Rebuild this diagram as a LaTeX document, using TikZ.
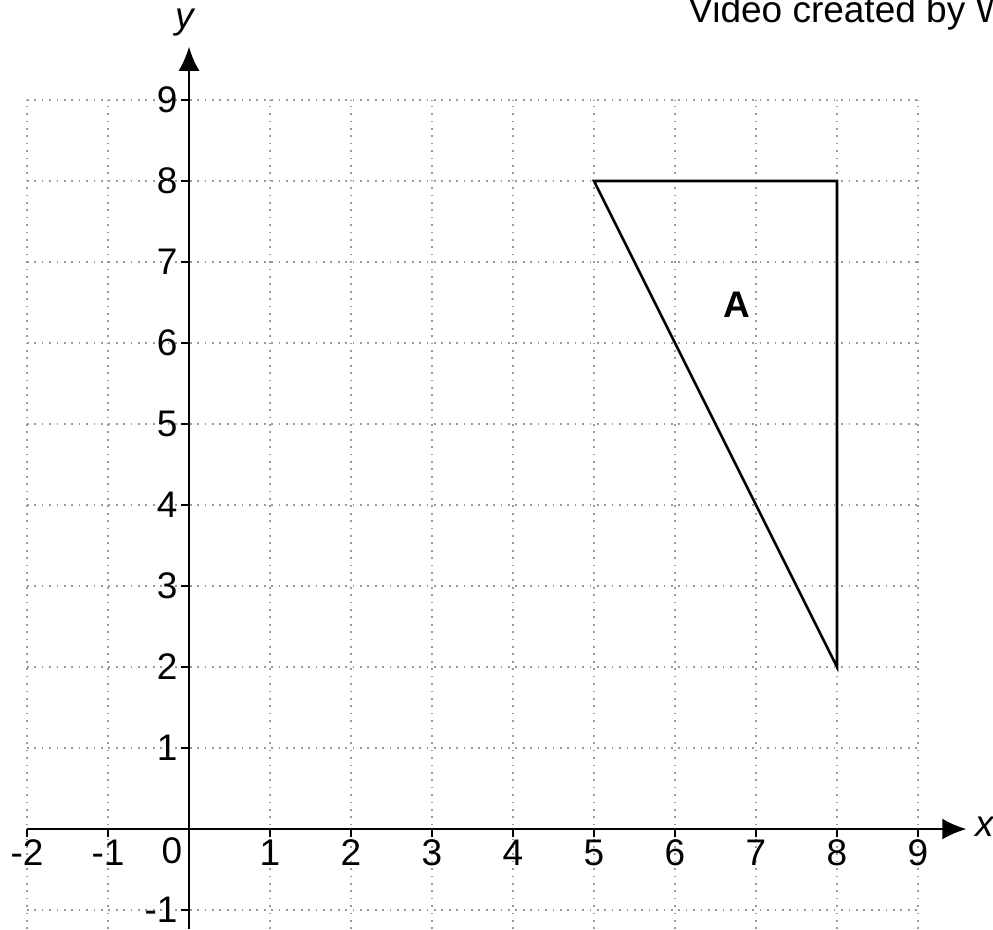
\documentclass[tikz,border=0pt]{standalone}
\usepackage{fontspec}
\setmainfont{Liberation Sans}
\usetikzlibrary{arrows.meta}
\tikzset{
  gridline/.style={gray!80, dotted, line width=0.6pt},
  axisline/.style={line width=0.9pt, -{Latex[length=3mm,width=2.6mm]}},
  ticklabel/.style={font=\fontsize{13}{15}\selectfont, inner sep=1pt},
  shapeline/.style={line width=0.9pt, line join=miter},
}
\begin{document}
\begin{tikzpicture}[x=1cm,y=1cm]
    \useasboundingbox (-2.333,-1.235) rectangle (9.926,10.235);
    % grid
    \foreach \i in {-2,...,9} \draw[gridline] (\i,-1.235) -- (\i,9);
    \foreach \j in {-1,...,9} \draw[gridline] (-2,\j) -- (9,\j);
    % axes
    \coordinate (xstart) at (-2,0);
    \coordinate (xend) at (9.6,0);
    \coordinate (ystart) at (0,-1.235);
    \coordinate (yend) at (0,9.66);
    \draw[axisline] (xstart) -- (xend);
    \draw[axisline] (ystart) -- (yend);
    \node[font=\fontsize{13}{15}\selectfont\itshape] (xlab) at (9.83,0.03) {x};
    \node[font=\fontsize{13}{15}\selectfont\itshape] (ylab) at (-0.05,9.96) {y};
    % ticks
    \foreach \i in {-2,-1,1,2,3,4,5,6,7,8,9} {
        \draw[line width=0.9pt] (\i,0) -- (\i,-0.1);
        \node[ticklabel] (xt\i) at (\i,-0.29) {\i};
    }
    \foreach \j in {-1,1,2,3,4,5,6,7,8,9} {
        \draw[line width=0.9pt] (-0.1,\j) -- (0,\j);
        \node[ticklabel, anchor=east] (yt\j) at (-0.1,\j) {\j};
    }
    \node[ticklabel] (zero) at (-0.21,-0.27) {0};
    % shape A
    \coordinate (p1) at (5,8);
    \coordinate (p2) at (8,8);
    \coordinate (p3) at (8,2);
    \draw[shapeline] (p1) -- (p2) -- (p3) -- cycle;
    \node[font=\fontsize{13}{15}\selectfont\bfseries] (labA) at (6.77,6.47) {A};
    % credit
    \node[anchor=west, font=\fontsize{13}{15}\selectfont] (credit) at (6.04,10.07) {Video created by W M};
\end{tikzpicture}
\end{document}
